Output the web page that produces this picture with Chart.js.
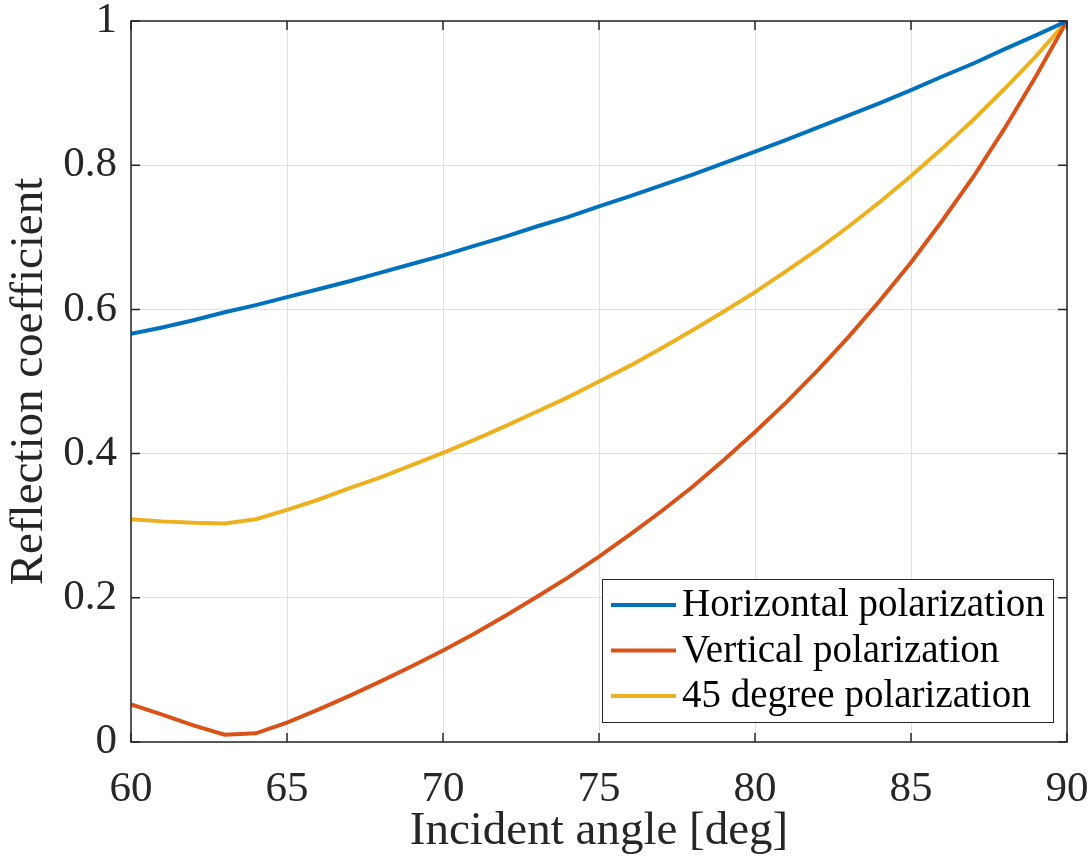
<!DOCTYPE html>
<html>
<head>
<meta charset="utf-8">
<script src="https://cdn.jsdelivr.net/npm/chart.js@4.4.1/dist/chart.umd.min.js"></script>
<style>
  html, body { margin: 0; padding: 0; background: #fff; }
  #wrap { width: 1092px; height: 862px; }
</style>
</head>
<body>
<div id="wrap"><canvas id="grafico" width="1092" height="862"></canvas></div>
<script>
// valores (paso de 1 grado)
const angulos = [60, 61, 62, 63, 64, 65, 66, 67, 68, 69, 70, 71, 72, 73, 74, 75,
  76, 77, 78, 79, 80, 81, 82, 83, 84, 85, 86, 87, 88, 89, 90];
const horizontal = [0.566, 0.575, 0.585, 0.596, 0.606, 0.617, 0.628, 0.639, 0.651, 0.663,
  0.675, 0.688, 0.701, 0.715, 0.728, 0.743, 0.757, 0.772, 0.787, 0.803, 0.819, 0.835,
  0.852, 0.869, 0.886, 0.904, 0.923, 0.941, 0.961, 0.980, 1.0];
const vertical = [0.052, 0.038, 0.023, 0.010, 0.012, 0.027, 0.045, 0.064, 0.084, 0.105,
  0.127, 0.150, 0.175, 0.201, 0.228, 0.257, 0.288, 0.320, 0.354, 0.391, 0.430, 0.471,
  0.515, 0.562, 0.612, 0.665, 0.723, 0.784, 0.851, 0.923, 1.0];
const grado45 = [0.309, 0.306, 0.304, 0.303, 0.309, 0.322, 0.336, 0.352, 0.367, 0.384,
  0.401, 0.419, 0.438, 0.458, 0.478, 0.500, 0.522, 0.546, 0.571, 0.597, 0.624, 0.653,
  0.683, 0.715, 0.749, 0.785, 0.823, 0.863, 0.906, 0.951, 1.0];
const etiquetas = ["Horizontal polarization", "Vertical polarization", "45 degree polarization"];
const colores = ["#0072BD", "#D95319", "#EDB120"];
const series = [horizontal, vertical, grado45];

const fuente = "'Liberation Serif', 'Times New Roman', serif";
const tinta = "#262626";

// marcas hacia dentro en los cuatro lados (estilo MATLAB) + caja
const ticksDentro = {
  id: "ticksDentro",
  afterDatasetsDraw(chart) {
    const { ctx, chartArea: a, scales } = chart;
    const largo = 9;
    ctx.save();
    ctx.strokeStyle = tinta;
    ctx.lineWidth = 1.5;
    ctx.beginPath();
    scales.x.ticks.forEach(t => {
      const px = scales.x.getPixelForValue(t.value);
      ctx.moveTo(px, a.bottom); ctx.lineTo(px, a.bottom - largo);
      ctx.moveTo(px, a.top); ctx.lineTo(px, a.top + largo);
    });
    scales.y.ticks.forEach(t => {
      const py = scales.y.getPixelForValue(t.value);
      ctx.moveTo(a.left, py); ctx.lineTo(a.left + largo, py);
      ctx.moveTo(a.right, py); ctx.lineTo(a.right - largo, py);
    });
    ctx.stroke();
    ctx.strokeRect(a.left, a.top, a.right - a.left, a.bottom - a.top);
    ctx.restore();
  }
};

// leyenda dentro del area, abajo a la derecha
const leyenda = {
  id: "leyenda",
  afterDraw(chart) {
    const { ctx, chartArea: a } = chart;
    const ancho = 451, alto = 143;
    const x0 = a.right - 14 - ancho, y0 = a.bottom - 20 - alto;
    ctx.save();
    ctx.fillStyle = "#fff";
    ctx.fillRect(x0, y0, ancho, alto);
    ctx.strokeStyle = tinta;
    ctx.lineWidth = 1;
    ctx.strokeRect(x0 + 0.5, y0 + 0.5, ancho, alto);
    ctx.font = "39px " + fuente;
    ctx.textBaseline = "middle";
    chart.data.datasets.forEach((ds, i) => {
      const yy = y0 + 26 + i * 45.5;
      ctx.strokeStyle = ds.borderColor;
      ctx.lineWidth = 4;
      ctx.beginPath();
      ctx.moveTo(x0 + 9, yy); ctx.lineTo(x0 + 74, yy);
      ctx.stroke();
      ctx.fillStyle = "#000";
      ctx.fillText(ds.label, x0 + 80, yy + 1);
    });
    ctx.restore();
  }
};

new Chart(document.getElementById("grafico"), {
  type: "line",
  data: {
    datasets: series.map((s, i) => ({
      label: etiquetas[i],
      data: angulos.map((ang, k) => ({ x: ang, y: s[k] })),
      borderColor: colores[i],
      backgroundColor: colores[i],
      borderWidth: 4,
      pointRadius: 0,
      tension: 0
    }))
  },
  options: {
    responsive: false,
    animation: false,
    layout: { padding: { top: 21, right: 25, left: 0, bottom: 0 } },
    plugins: {
      legend: { display: false },
      tooltip: { enabled: false }
    },
    scales: {
      x: {
        type: "linear",
        min: 60, max: 90,
        afterFit: s => { s.height = 120; s.paddingLeft = 0; s.paddingRight = 0; },
        ticks: { stepSize: 5, padding: 22, autoSkip: false, color: tinta, font: { family: fuente, size: 43 } },
        grid: { color: "#e0e0e0", lineWidth: 1, drawTicks: false },
        border: { display: false },
        title: {
          display: true, text: "Incident angle [deg]", color: tinta,
          font: { family: fuente, size: 47 }, padding: { top: 0, bottom: 2 }
        }
      },
      y: {
        min: 0, max: 1,
        afterFit: s => { s.width = 131; s.paddingTop = 0; s.paddingBottom = 0; },
        ticks: {
          stepSize: 0.2, padding: 14, color: tinta, font: { family: fuente, size: 43 },
          callback: v => String(Number(v.toFixed(1)))
        },
        grid: { color: "#e0e0e0", lineWidth: 1, drawTicks: false },
        border: { display: false },
        title: {
          display: true, text: "Reflection coefficient", color: tinta,
          font: { family: fuente, size: 47 }, padding: { top: 1, bottom: 0 }
        }
      }
    }
  },
  plugins: [ticksDentro, leyenda]
});
</script>
</body>
</html>
